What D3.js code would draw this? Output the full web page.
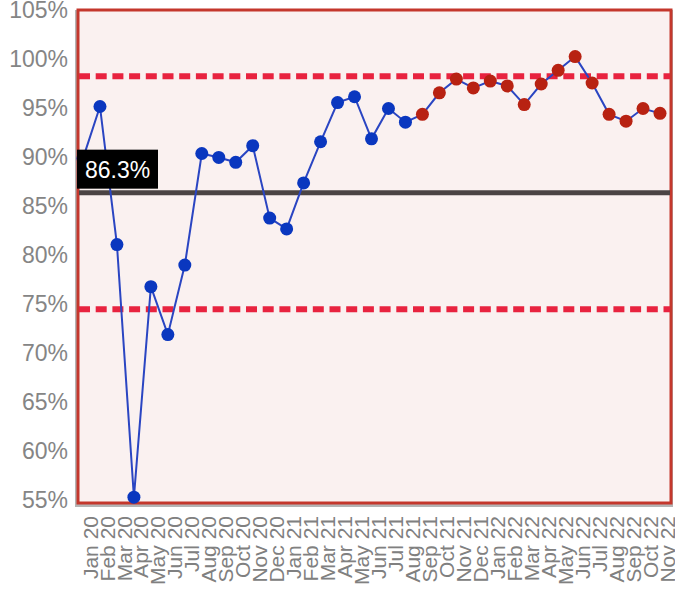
<!DOCTYPE html>
<html>
<head>
<meta charset="utf-8">
<script src="https://cdn.jsdelivr.net/npm/d3@7"></script>
<style>
  html, body { margin: 0; padding: 0; background: #ffffff; }
  svg { display: block; }
</style>
</head>
<body>
<svg id="chart" width="675" height="593"></svg>
<script>
// Monthly compliance (%) with control limits
const months = ["Jan 20","Feb 20","Mar 20","Apr 20","May 20","Jun 20","Jul 20","Aug 20","Sep 20","Oct 20","Nov 20","Dec 20",
                "Jan 21","Feb 21","Mar 21","Apr 21","May 21","Jun 21","Jul 21","Aug 21","Sep 21","Oct 21","Nov 21","Dec 21",
                "Jan 22","Feb 22","Mar 22","Apr 22","May 22","Jun 22","Jul 22","Aug 22","Sep 22","Oct 22","Nov 22"];
const values = [89.8, 95.1, 81.0, 55.2, 76.7, 71.8, 78.9, 90.3, 89.9, 89.4, 91.1, 83.7,
                82.6, 87.3, 91.5, 95.5, 96.1, 91.8, 94.9, 93.5, 94.3, 96.5, 97.9, 97.0,
                97.7, 97.2, 95.3, 97.4, 98.8, 100.2, 97.5, 94.3, 93.6, 94.9, 94.4];
// first month of the shift run (points highlighted in red from here on)
const shiftStart = "Sep 21";
const meanValue = 86.3;
const upperLimit = 98.2;
const lowerLimit = 74.4;
const yTicks = [55, 60, 65, 70, 75, 80, 85, 90, 95, 100, 105];

const svg = d3.select("#chart");
const plot = { left: 78, right: 671, top: 10, bottom: 503 };

const x = d3.scalePoint().domain(months).range([83, 660]);
const y = d3.scaleLinear().domain([54.6, 105]).range([plot.bottom, 9.6]);

// shadow and framed plot area
svg.append("rect")
  .attr("x", plot.left - 3).attr("y", plot.top)
  .attr("width", plot.right - plot.left + 5).attr("height", plot.bottom - plot.top + 4)
  .attr("fill", "#b4b4b4");
svg.append("rect")
  .attr("x", plot.left).attr("y", plot.top)
  .attr("width", plot.right - plot.left).attr("height", plot.bottom - plot.top)
  .attr("fill", "#faf1f0")
  .attr("stroke", "#c4372c").attr("stroke-width", 3);

// y axis
const yAxis = svg.append("g")
  .attr("transform", `translate(${plot.left - 10},0)`)
  .call(d3.axisLeft(y).tickValues(yTicks).tickSize(0).tickPadding(0).tickFormat(d => d + "%"));
yAxis.select(".domain").remove();
yAxis.selectAll("text")
  .attr("font-family", "Liberation Sans, Arial, sans-serif")
  .attr("font-size", 23)
  .attr("fill", "#858585")
  .attr("dy", "0.36em");

// x axis with vertical month labels
const xAxis = svg.append("g")
  .attr("transform", `translate(0,${plot.bottom + 13})`)
  .call(d3.axisBottom(x).tickSize(0).tickPadding(0));
xAxis.select(".domain").remove();
xAxis.selectAll("text")
  .attr("font-family", "Liberation Sans, Arial, sans-serif")
  .attr("font-size", 21)
  .attr("fill", "#808080")
  .attr("text-anchor", "end")
  .attr("transform", "translate(6.5,0) rotate(-90)")
  .attr("x", 0).attr("y", 0)
  .attr("dy", "0.36em");

// control limits
[upperLimit, lowerLimit].forEach(v => {
  svg.append("line")
    .attr("x1", plot.left + 1).attr("x2", plot.right - 1)
    .attr("y1", y(v)).attr("y2", y(v))
    .attr("stroke", "#e8233f").attr("stroke-width", 6)
    .attr("stroke-dasharray", "11,5.7");
});

// centre line
svg.append("line")
  .attr("x1", plot.left + 1).attr("x2", plot.right - 1)
  .attr("y1", y(meanValue)).attr("y2", y(meanValue))
  .attr("stroke", "#4b4444").attr("stroke-width", 5);

// series
const data = months.map((m, i) => ({ m, v: values[i], shift: i >= months.indexOf(shiftStart) }));
svg.append("path")
  .datum(data)
  .attr("fill", "none")
  .attr("stroke", "#2a45c2")
  .attr("stroke-width", 2)
  .attr("d", d3.line().x(d => x(d.m)).y(d => y(d.v)));

svg.append("g").selectAll("circle")
  .data(data)
  .join("circle")
  .attr("cx", d => x(d.m))
  .attr("cy", d => y(d.v))
  .attr("r", 6.5)
  .attr("fill", d => d.shift ? "#b82212" : "#0a37bf");

// centre line value tag, sitting just above the line
const tagTop = y(meanValue) - 43;
const tag = svg.append("g");
tag.append("rect")
  .attr("x", plot.left - 1).attr("y", tagTop)
  .attr("width", 81).attr("height", 39)
  .attr("fill", "#000000");
tag.append("text")
  .attr("x", 85).attr("y", tagTop + 28)
  .attr("font-family", "Liberation Sans, Arial, sans-serif")
  .attr("font-size", 23)
  .attr("fill", "#ffffff")
  .text(meanValue.toFixed(1) + "%");
</script>
</body>
</html>
